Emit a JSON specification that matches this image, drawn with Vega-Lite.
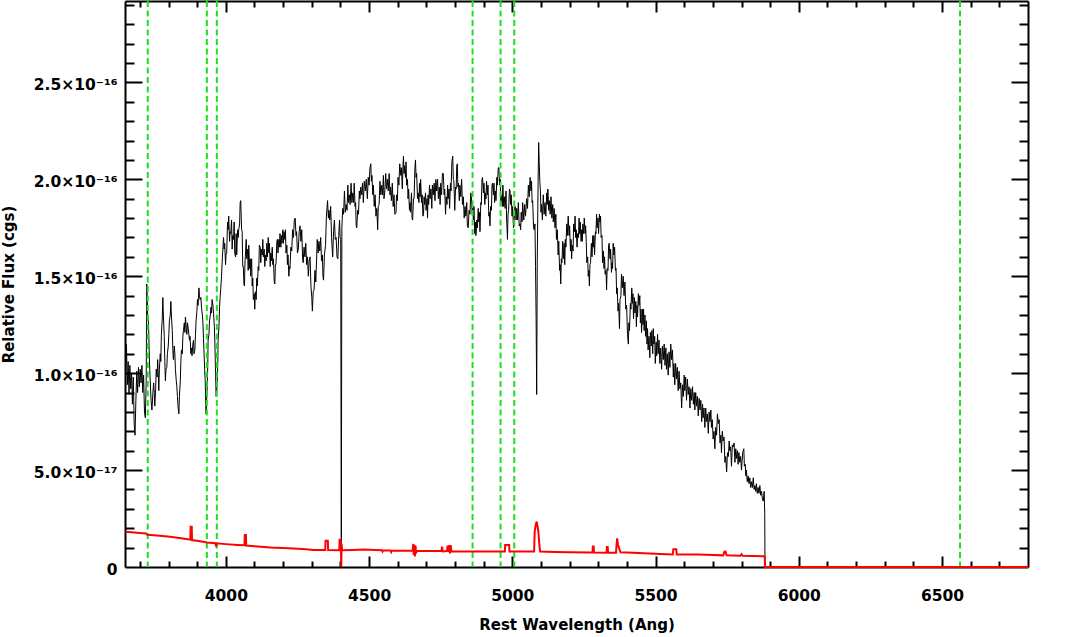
{
"$schema": "https://vega.github.io/schema/vega-lite/v6.json",
"width": 903, "height": 566,
"autosize": {"type": "none"},
"padding": {"left": 125, "top": 1, "right": 41, "bottom": 70},
"background": "white",
"config": {"view": {"stroke": null}, "axis": {"grid": false, "domainColor": "black", "tickColor": "black", "labelColor": "black", "titleColor": "black", "labelFont": "DejaVu Sans", "titleFont": "DejaVu Sans"}},
"datasets": {
"vlines": [{"w":3727.4},{"w":3933.7},{"w":3968.5},{"w":4861.3},{"w":4958.9},{"w":5006.8},{"w":6562.8}],
"spec": [
{"w":3650,"f":10.2e-17},{"w":3653,"f":11.5e-17},{"w":3656,"f":9.4e-17},{"w":3659,"f":10.6e-17},{"w":3662,"f":8.9e-17},{"w":3665,"f":10.4e-17},{"w":3668,"f":9.2e-17},{"w":3671,"f":10.0e-17},{"w":3674,"f":8.4e-17},{"w":3677,"f":9.8e-17},{"w":3680,"f":7.4e-17},{"w":3683,"f":6.8e-17},{"w":3686,"f":8.6e-17},{"w":3689,"f":10.1e-17},{"w":3692,"f":9.0e-17},{"w":3695,"f":10.3e-17},{"w":3698,"f":9.3e-17},{"w":3701,"f":10.2e-17},{"w":3704,"f":9.5e-17},{"w":3707,"f":10.4e-17},{"w":3710,"f":9.0e-17},{"w":3713,"f":9.9e-17},{"w":3716,"f":8.0e-17},{"w":3719,"f":7.7e-17},{"w":3722,"f":9.6e-17},{"w":3724,"f":14.6e-17},{"w":3727,"f":13.0e-17},{"w":3730,"f":12.6e-17},{"w":3733,"f":10.8e-17},{"w":3736,"f":9.6e-17},{"w":3739,"f":8.6e-17},{"w":3742,"f":8.1e-17},{"w":3745,"f":8.9e-17},{"w":3748,"f":9.5e-17},{"w":3750,"f":9.0e-17},{"w":3752,"f":8.3e-17},{"w":3755,"f":9.2e-17},{"w":3757,"f":10.2e-17},{"w":3760,"f":9.8e-17},{"w":3762,"f":10.7e-17},{"w":3764,"f":10.0e-17},{"w":3766,"f":9.1e-17},{"w":3768,"f":10.2e-17},{"w":3771,"f":11.0e-17},{"w":3773,"f":10.6e-17},{"w":3775,"f":12.0e-17},{"w":3778,"f":12.8e-17},{"w":3780,"f":13.9e-17},{"w":3782,"f":13.0e-17},{"w":3785,"f":11.9e-17},{"w":3787,"f":10.6e-17},{"w":3789,"f":9.6e-17},{"w":3791,"f":10.2e-17},{"w":3794,"f":10.3e-17},{"w":3796,"f":11.0e-17},{"w":3799,"f":11.4e-17},{"w":3801,"f":12.0e-17},{"w":3803,"f":12.7e-17},{"w":3806,"f":13.0e-17},{"w":3808,"f":13.7e-17},{"w":3810,"f":13.0e-17},{"w":3813,"f":12.2e-17},{"w":3815,"f":11.2e-17},{"w":3817,"f":10.7e-17},{"w":3820,"f":11.4e-17},{"w":3822,"f":11.0e-17},{"w":3824,"f":10.2e-17},{"w":3827,"f":9.6e-17},{"w":3829,"f":9.3e-17},{"w":3831,"f":8.8e-17},{"w":3833,"f":8.3e-17},{"w":3836,"f":7.9e-17},{"w":3838,"f":8.8e-17},{"w":3841,"f":9.6e-17},{"w":3843,"f":10.6e-17},{"w":3845,"f":11.2e-17},{"w":3848,"f":11.0e-17},{"w":3850,"f":11.9e-17},{"w":3852,"f":12.2e-17},{"w":3855,"f":12.6e-17},{"w":3857,"f":12.1e-17},{"w":3859,"f":12.9e-17},{"w":3862,"f":12.3e-17},{"w":3864,"f":12.0e-17},{"w":3866,"f":12.6e-17},{"w":3868,"f":12.4e-17},{"w":3871,"f":12.0e-17},{"w":3873,"f":11.7e-17},{"w":3875,"f":11.9e-17},{"w":3878,"f":11.0e-17},{"w":3880,"f":11.3e-17},{"w":3882,"f":10.9e-17},{"w":3885,"f":11.5e-17},{"w":3887,"f":11.7e-17},{"w":3889,"f":11.0e-17},{"w":3892,"f":11.2e-17},{"w":3894,"f":12.0e-17},{"w":3896,"f":12.7e-17},{"w":3899,"f":13.2e-17},{"w":3901,"f":13.8e-17},{"w":3903,"f":13.5e-17},{"w":3906,"f":14.4e-17},{"w":3908,"f":14.0e-17},{"w":3910,"f":13.8e-17},{"w":3913,"f":13.9e-17},{"w":3915,"f":13.4e-17},{"w":3918,"f":13.0e-17},{"w":3920,"f":12.6e-17},{"w":3922,"f":11.8e-17},{"w":3924,"f":11.0e-17},{"w":3926,"f":10.2e-17},{"w":3928,"f":9.6e-17},{"w":3930,"f":8.4e-17},{"w":3931,"f":7.9e-17},{"w":3933,"f":8.6e-17},{"w":3935,"f":9.3e-17},{"w":3937,"f":10.5e-17},{"w":3938,"f":11.7e-17},{"w":3941,"f":12.0e-17},{"w":3943,"f":12.7e-17},{"w":3946,"f":13.0e-17},{"w":3948,"f":13.4e-17},{"w":3950,"f":13.1e-17},{"w":3952,"f":13.8e-17},{"w":3955,"f":13.5e-17},{"w":3957,"f":13.1e-17},{"w":3960,"f":12.4e-17},{"w":3962,"f":11.4e-17},{"w":3964,"f":10.0e-17},{"w":3966,"f":8.8e-17},{"w":3968,"f":9.0e-17},{"w":3970,"f":9.6e-17},{"w":3972,"f":10.6e-17},{"w":3973,"f":11.7e-17},{"w":3976,"f":12.4e-17},{"w":3978,"f":13.4e-17},{"w":3980,"f":13.9e-17},{"w":3982,"f":14.3e-17},{"w":3985,"f":15.0e-17},{"w":3987,"f":15.7e-17},
{"w":3990,"f":16.5e-17},{"w":3992,"f":17.0e-17},{"w":3994,"f":16.4e-17},{"w":3996,"f":16.7e-17},{"w":3999,"f":15.6e-17},{"w":4001,"f":16.2e-17},{"w":4003,"f":16.2e-17},{"w":4006,"f":17.8e-17},{"w":4008,"f":17.4e-17},{"w":4010,"f":18.1e-17},{"w":4013,"f":16.8e-17},{"w":4015,"f":17.3e-17},{"w":4017,"f":17.2e-17},{"w":4020,"f":17.9e-17},{"w":4022,"f":16.4e-17},{"w":4024,"f":17.1e-17},{"w":4027,"f":16.9e-17},{"w":4029,"f":17.8e-17},{"w":4031,"f":16.2e-17},{"w":4034,"f":16.0e-17},{"w":4036,"f":17.2e-17},{"w":4038,"f":16.1e-17},{"w":4041,"f":17.4e-17},{"w":4043,"f":17.0e-17},{"w":4045,"f":17.4e-17},{"w":4048,"f":17.7e-17},{"w":4050,"f":18.8e-17},{"w":4052,"f":18.9e-17},{"w":4055,"f":17.4e-17},{"w":4057,"f":17.3e-17},{"w":4059,"f":15.5e-17},{"w":4061,"f":15.5e-17},{"w":4063,"f":14.6e-17},{"w":4065,"f":14.5e-17},{"w":4067,"f":15.8e-17},{"w":4068,"f":16.0e-17},{"w":4071,"f":16.9e-17},{"w":4073,"f":15.9e-17},{"w":4076,"f":16.4e-17},{"w":4078,"f":15.3e-17},{"w":4080,"f":16.6e-17},{"w":4083,"f":15.4e-17},{"w":4085,"f":15.9e-17},{"w":4087,"f":15.0e-17},{"w":4090,"f":15.9e-17},{"w":4092,"f":14.5e-17},{"w":4094,"f":14.9e-17},{"w":4096,"f":13.8e-17},{"w":4099,"f":14.1e-17},{"w":4101,"f":13.3e-17},{"w":4103,"f":14.2e-17},{"w":4106,"f":13.8e-17},{"w":4108,"f":14.9e-17},{"w":4110,"f":14.5e-17},{"w":4113,"f":15.5e-17},{"w":4115,"f":15.3e-17},{"w":4117,"f":16.6e-17},{"w":4120,"f":16.5e-17},{"w":4122,"f":15.7e-17},{"w":4124,"f":16.4e-17},{"w":4127,"f":16.1e-17},{"w":4129,"f":16.9e-17},{"w":4131,"f":16.0e-17},{"w":4134,"f":16.4e-17},{"w":4136,"f":15.5e-17},{"w":4138,"f":16.1e-17},{"w":4141,"f":15.8e-17},{"w":4143,"f":16.7e-17},{"w":4145,"f":16.0e-17},{"w":4148,"f":17.0e-17},{"w":4150,"f":16.2e-17},{"w":4152,"f":16.7e-17},{"w":4155,"f":15.5e-17},{"w":4157,"f":16.2e-17},{"w":4159,"f":15.8e-17},{"w":4162,"f":16.5e-17},{"w":4164,"f":15.6e-17},{"w":4166,"f":15.9e-17},{"w":4169,"f":14.7e-17},{"w":4171,"f":14.6e-17},{"w":4173,"f":15.6e-17},{"w":4175,"f":15.6e-17},{"w":4178,"f":16.8e-17},{"w":4180,"f":16.9e-17},{"w":4182,"f":16.2e-17},{"w":4185,"f":16.9e-17},{"w":4187,"f":16.5e-17},{"w":4189,"f":17.2e-17},{"w":4192,"f":16.5e-17},{"w":4194,"f":17.1e-17},{"w":4196,"f":16.7e-17},{"w":4199,"f":17.4e-17},{"w":4201,"f":16.7e-17},{"w":4203,"f":17.3e-17},{"w":4206,"f":16.9e-17},{"w":4208,"f":17.4e-17},{"w":4210,"f":16.2e-17},{"w":4213,"f":16.6e-17},{"w":4215,"f":15.6e-17},{"w":4217,"f":16.1e-17},{"w":4220,"f":15.0e-17},{"w":4222,"f":15.5e-17},{"w":4224,"f":15.4e-17},{"w":4227,"f":16.5e-17},{"w":4230,"f":16.3e-17},{"w":4233,"f":17.4e-17},{"w":4236,"f":17.0e-17},{"w":4239,"f":17.9e-17},{"w":4242,"f":18.0e-17},{"w":4245,"f":17.1e-17},{"w":4247,"f":17.3e-17},{"w":4250,"f":16.2e-17},{"w":4253,"f":16.4e-17},{"w":4256,"f":17.3e-17},{"w":4259,"f":17.6e-17},{"w":4262,"f":16.8e-17},{"w":4265,"f":17.4e-17},{"w":4268,"f":15.9e-17},{"w":4270,"f":15.7e-17},{"w":4273,"f":16.5e-17},{"w":4276,"f":16.0e-17},{"w":4279,"f":16.7e-17},{"w":4282,"f":15.6e-17},{"w":4285,"f":16.0e-17},{"w":4288,"f":15.0e-17},{"w":4291,"f":15.8e-17},{"w":4294,"f":16.0e-17},{"w":4297,"f":14.5e-17},{"w":4300,"f":13.9e-17},{"w":4302,"f":13.2e-17},{"w":4305,"f":14.2e-17},{"w":4308,"f":14.3e-17},{"w":4311,"f":15.3e-17},{"w":4314,"f":14.7e-17},{"w":4317,"f":16.0e-17},{"w":4319,"f":16.9e-17},{"w":4322,"f":16.2e-17},{"w":4325,"f":16.8e-17},{"w":4328,"f":16.3e-17},{"w":4331,"f":17.0e-17},{"w":4334,"f":15.8e-17},{"w":4337,"f":16.1e-17},{"w":4339,"f":15.0e-17},{"w":4341,"f":14.8e-17},{"w":4344,"f":16.1e-17},{"w":4348,"f":16.6e-17},{"w":4351,"f":18.1e-17},{"w":4355,"f":18.9e-17},{"w":4358,"f":18.0e-17},{"w":4360,"f":18.4e-17},{"w":4363,"f":17.9e-17},{"w":4366,"f":18.6e-17},{"w":4369,"f":17.0e-17},{"w":4373,"f":16.0e-17},{"w":4376,"f":17.3e-17},{"w":4379,"f":17.9e-17},{"w":4382,"f":16.9e-17},{"w":4385,"f":17.0e-17},{"w":4388,"f":16.0e-17},{"w":4391,"f":15.9e-17},{"w":4394,"f":17.1e-17},{"w":4397,"f":17.9e-17},{"w":4399,"f":17.0e-17},{"w":4401,"f":16.9e-17},{"w":4403,"f":0},
{"w":4405,"f":17.5e-17},{"w":4408,"f":18.5e-17},{"w":4411,"f":18.2e-17},{"w":4414,"f":19.4e-17},{"w":4417,"f":18.3e-17},{"w":4420,"f":18.7e-17},{"w":4423,"f":18.4e-17},{"w":4426,"f":19.7e-17},{"w":4428,"f":18.8e-17},{"w":4431,"f":19.2e-17},{"w":4434,"f":18.7e-17},{"w":4437,"f":19.8e-17},{"w":4440,"f":18.8e-17},{"w":4443,"f":19.3e-17},{"w":4446,"f":18.8e-17},{"w":4448,"f":19.8e-17},{"w":4451,"f":18.6e-17},{"w":4453,"f":18.8e-17},{"w":4455,"f":17.6e-17},{"w":4457,"f":17.5e-17},{"w":4460,"f":18.4e-17},{"w":4463,"f":18.2e-17},{"w":4466,"f":19.4e-17},{"w":4468,"f":19.0e-17},{"w":4471,"f":19.6e-17},{"w":4474,"f":19.2e-17},{"w":4477,"f":19.8e-17},{"w":4480,"f":18.8e-17},{"w":4483,"f":19.9e-17},{"w":4487,"f":19.4e-17},{"w":4490,"f":20.0e-17},{"w":4494,"f":19.0e-17},{"w":4497,"f":20.1e-17},{"w":4500,"f":19.7e-17},{"w":4503,"f":20.6e-17},{"w":4506,"f":20.8e-17},{"w":4508,"f":19.9e-17},{"w":4510,"f":20.2e-17},{"w":4513,"f":19.2e-17},{"w":4515,"f":19.7e-17},{"w":4518,"f":18.6e-17},{"w":4521,"f":19.2e-17},{"w":4524,"f":18.1e-17},{"w":4527,"f":18.5e-17},{"w":4530,"f":17.4e-17},{"w":4532,"f":18.6e-17},{"w":4535,"f":18.7e-17},{"w":4538,"f":19.9e-17},{"w":4541,"f":19.2e-17},{"w":4544,"f":19.7e-17},{"w":4547,"f":19.2e-17},{"w":4550,"f":20.2e-17},{"w":4552,"f":19.0e-17},{"w":4555,"f":19.4e-17},{"w":4558,"f":20.3e-17},{"w":4561,"f":19.5e-17},{"w":4564,"f":20.0e-17},{"w":4567,"f":19.4e-17},{"w":4570,"f":20.3e-17},{"w":4573,"f":19.2e-17},{"w":4575,"f":19.6e-17},{"w":4578,"f":18.9e-17},{"w":4581,"f":19.8e-17},{"w":4584,"f":18.6e-17},{"w":4587,"f":19.2e-17},{"w":4590,"f":18.2e-17},{"w":4594,"f":18.3e-17},{"w":4596,"f":19.2e-17},{"w":4599,"f":18.9e-17},{"w":4601,"f":20.1e-17},{"w":4604,"f":19.7e-17},{"w":4607,"f":20.8e-17},{"w":4611,"f":20.2e-17},{"w":4613,"f":20.6e-17},{"w":4616,"f":19.5e-17},{"w":4618,"f":20.6e-17},{"w":4620,"f":21.2e-17},{"w":4622,"f":20.3e-17},{"w":4624,"f":20.7e-17},{"w":4627,"f":20.1e-17},{"w":4629,"f":20.9e-17},{"w":4631,"f":19.7e-17},{"w":4634,"f":20.0e-17},{"w":4636,"f":19.0e-17},{"w":4638,"f":19.5e-17},{"w":4641,"f":18.4e-17},{"w":4643,"f":18.8e-17},{"w":4645,"f":18.3e-17},{"w":4648,"f":19.3e-17},{"w":4650,"f":18.0e-17},{"w":4652,"f":17.9e-17},{"w":4655,"f":19.0e-17},{"w":4657,"f":19.0e-17},{"w":4660,"f":20.6e-17},{"w":4662,"f":21.0e-17},{"w":4664,"f":20.1e-17},{"w":4666,"f":20.3e-17},{"w":4669,"f":19.0e-17},{"w":4671,"f":19.3e-17},{"w":4674,"f":18.8e-17},{"w":4676,"f":19.8e-17},{"w":4678,"f":19.1e-17},{"w":4680,"f":20.0e-17},{"w":4683,"f":18.8e-17},{"w":4685,"f":19.2e-17},{"w":4688,"f":18.1e-17},{"w":4690,"f":18.2e-17},{"w":4692,"f":19.1e-17},{"w":4694,"f":18.7e-17},{"w":4697,"f":19.3e-17},{"w":4699,"f":18.4e-17},{"w":4702,"f":19.0e-17},{"w":4704,"f":18.0e-17},{"w":4706,"f":19.2e-17},{"w":4708,"f":18.7e-17},{"w":4711,"f":19.7e-17},{"w":4713,"f":19.0e-17},{"w":4716,"f":19.5e-17},{"w":4719,"f":18.5e-17},{"w":4721,"f":19.7e-17},{"w":4724,"f":19.2e-17},{"w":4727,"f":19.8e-17},{"w":4730,"f":18.9e-17},{"w":4733,"f":20.0e-17},{"w":4736,"f":19.4e-17},{"w":4739,"f":20.0e-17},{"w":4742,"f":19.0e-17},{"w":4745,"f":19.6e-17},{"w":4748,"f":18.7e-17},{"w":4750,"f":19.8e-17},{"w":4753,"f":19.2e-17},{"w":4756,"f":20.3e-17},{"w":4759,"f":20.3e-17},{"w":4762,"f":19.2e-17},{"w":4764,"f":19.5e-17},{"w":4767,"f":18.2e-17},{"w":4769,"f":19.1e-17},{"w":4772,"f":18.7e-17},{"w":4774,"f":19.7e-17},{"w":4776,"f":19.0e-17},{"w":4779,"f":19.5e-17},{"w":4781,"f":18.5e-17},{"w":4784,"f":19.8e-17},{"w":4786,"f":19.4e-17},{"w":4789,"f":20.9e-17},{"w":4792,"f":21.2e-17},{"w":4794,"f":20.0e-17},{"w":4796,"f":19.9e-17},{"w":4799,"f":18.4e-17},{"w":4802,"f":19.6e-17},{"w":4804,"f":19.5e-17},{"w":4806,"f":20.7e-17},{"w":4808,"f":20.8e-17},{"w":4810,"f":19.6e-17},{"w":4812,"f":19.8e-17},{"w":4815,"f":18.9e-17},{"w":4817,"f":19.7e-17},{"w":4820,"f":19.1e-17},{"w":4823,"f":20.0e-17},{"w":4826,"f":18.7e-17},{"w":4829,"f":19.1e-17},{"w":4832,"f":18.0e-17},{"w":4835,"f":18.6e-17},{"w":4838,"f":18.1e-17},{"w":4841,"f":18.8e-17},{"w":4843,"f":17.6e-17},{"w":4846,"f":17.5e-17},{"w":4849,"f":18.4e-17},{"w":4852,"f":18.2e-17},{"w":4855,"f":19.3e-17},{"w":4857,"f":19.1e-17},{"w":4860,"f":18.2e-17},{"w":4862,"f":18.5e-17},{"w":4864,"f":17.9e-17},{"w":4866,"f":18.6e-17},{"w":4869,"f":17.2e-17},{"w":4871,"f":17.8e-17},{"w":4873,"f":17.1e-17},{"w":4876,"f":17.9e-17},{"w":4878,"f":17.5e-17},{"w":4881,"f":18.5e-17},{"w":4883,"f":17.8e-17},{"w":4885,"f":18.3e-17},{"w":4887,"f":17.3e-17},{"w":4890,"f":18.8e-17},{"w":4892,"f":18.7e-17},{"w":4894,"f":20.0e-17},{"w":4896,"f":20.1e-17},{"w":4899,"f":19.3e-17},{"w":4901,"f":19.8e-17},{"w":4904,"f":18.7e-17},{"w":4906,"f":19.3e-17},{"w":4908,"f":19.0e-17},{"w":4910,"f":19.9e-17},{"w":4913,"f":19.2e-17},{"w":4915,"f":19.7e-17},{"w":4918,"f":18.1e-17},{"w":4920,"f":18.3e-17},{"w":4922,"f":17.6e-17},{"w":4924,"f":18.6e-17},{"w":4927,"f":18.4e-17},{"w":4929,"f":19.7e-17},{"w":4931,"f":19.8e-17},{"w":4934,"f":19.2e-17},{"w":4936,"f":19.8e-17},{"w":4938,"f":18.8e-17},{"w":4941,"f":19.4e-17},{"w":4943,"f":18.9e-17},{"w":4946,"f":20.1e-17},{"w":4948,"f":19.7e-17},{"w":4951,"f":20.6e-17},{"w":4953,"f":20.6e-17},{"w":4956,"f":19.7e-17},{"w":4958,"f":20.0e-17},{"w":4960,"f":18.8e-17},{"w":4963,"f":19.2e-17},{"w":4965,"f":18.6e-17},{"w":4967,"f":19.7e-17},{"w":4970,"f":18.6e-17},{"w":4972,"f":19.1e-17},{"w":4975,"f":18.5e-17},{"w":4978,"f":19.4e-17},{"w":4980,"f":18.0e-17},{"w":4983,"f":16.9e-17},{"w":4985,"f":18.2e-17},{"w":4987,"f":18.4e-17},{"w":4990,"f":19.5e-17},{"w":4992,"f":19.4e-17},{"w":4994,"f":18.7e-17},{"w":4996,"f":19.2e-17},{"w":4999,"f":18.1e-17},{"w":5001,"f":18.6e-17},{"w":5004,"f":17.5e-17},{"w":5006,"f":17.6e-17},{"w":5008,"f":18.5e-17},{"w":5010,"f":18.6e-17},{"w":5013,"f":17.9e-17},{"w":5015,"f":18.5e-17},{"w":5018,"f":17.9e-17},{"w":5021,"f":18.8e-17},{"w":5024,"f":17.6e-17},{"w":5027,"f":17.7e-17},{"w":5029,"f":17.4e-17},{"w":5031,"f":18.3e-17},{"w":5034,"f":17.8e-17},{"w":5036,"f":18.8e-17},{"w":5040,"f":17.9e-17},{"w":5043,"f":18.7e-17},{"w":5046,"f":18.1e-17},{"w":5050,"f":19.0e-17},{"w":5053,"f":18.5e-17},{"w":5056,"f":19.7e-17},{"w":5059,"f":19.1e-17},{"w":5062,"f":20.1e-17},{"w":5065,"f":19.4e-17},{"w":5067,"f":19.9e-17},{"w":5069,"f":18.8e-17},{"w":5071,"f":18.9e-17},{"w":5074,"f":17.6e-17},{"w":5076,"f":17.4e-17},{"w":5079,"f":17.7e-17},{"w":5081,"f":15.5e-17},{"w":5083,"f":12.9e-17},{"w":5085,"f":8.9e-17},{"w":5087,"f":15.7e-17},{"w":5090,"f":19.9e-17},{"w":5092,"f":21.9e-17},{"w":5094,"f":20.8e-17},{"w":5096,"f":19.9e-17},
{"w":5098,"f":19.4e-17},{"w":5100,"f":18.3e-17},{"w":5102,"f":18.7e-17},{"w":5105,"f":17.9e-17},{"w":5108,"f":19.2e-17},{"w":5111,"f":18.2e-17},{"w":5114,"f":18.8e-17},{"w":5117,"f":18.1e-17},{"w":5120,"f":19.3e-17},{"w":5122,"f":18.7e-17},{"w":5124,"f":19.5e-17},{"w":5127,"f":18.4e-17},{"w":5129,"f":18.9e-17},{"w":5132,"f":18.2e-17},{"w":5135,"f":19.1e-17},{"w":5138,"f":18.0e-17},{"w":5141,"f":18.7e-17},{"w":5143,"f":17.8e-17},{"w":5146,"f":18.5e-17},{"w":5149,"f":17.5e-17},{"w":5152,"f":18.2e-17},{"w":5154,"f":16.9e-17},{"w":5157,"f":17.4e-17},{"w":5160,"f":16.1e-17},{"w":5162,"f":16.8e-17},{"w":5165,"f":15.3e-17},{"w":5167,"f":15.6e-17},{"w":5169,"f":14.6e-17},{"w":5171,"f":15.9e-17},{"w":5173,"f":15.7e-17},{"w":5176,"f":16.8e-17},{"w":5178,"f":15.9e-17},{"w":5181,"f":16.7e-17},{"w":5183,"f":15.6e-17},{"w":5185,"f":16.9e-17},{"w":5187,"f":16.5e-17},{"w":5190,"f":17.7e-17},{"w":5192,"f":17.1e-17},{"w":5195,"f":18.1e-17},{"w":5198,"f":17.1e-17},{"w":5200,"f":17.6e-17},{"w":5203,"f":16.3e-17},{"w":5205,"f":16.9e-17},{"w":5207,"f":15.9e-17},{"w":5209,"f":16.6e-17},{"w":5212,"f":16.3e-17},{"w":5214,"f":17.7e-17},{"w":5217,"f":17.3e-17},{"w":5219,"f":18.1e-17},{"w":5221,"f":17.0e-17},{"w":5223,"f":17.4e-17},{"w":5226,"f":16.5e-17},{"w":5228,"f":17.2e-17},{"w":5231,"f":17.0e-17},{"w":5233,"f":18.0e-17},{"w":5235,"f":17.2e-17},{"w":5237,"f":17.8e-17},{"w":5240,"f":16.8e-17},{"w":5242,"f":17.4e-17},{"w":5244,"f":16.8e-17},{"w":5246,"f":17.7e-17},{"w":5249,"f":17.2e-17},{"w":5251,"f":18.0e-17},{"w":5254,"f":17.2e-17},{"w":5256,"f":17.6e-17},
{"w":5258,"f":16.8e-17},{"w":5260,"f":15.7e-17},{"w":5263,"f":16.0e-17},{"w":5265,"f":15.0e-17},{"w":5267,"f":15.3e-17},{"w":5269,"f":14.5e-17},{"w":5271,"f":15.6e-17},{"w":5273,"f":15.7e-17},{"w":5276,"f":16.7e-17},{"w":5278,"f":16.0e-17},{"w":5281,"f":17.1e-17},{"w":5283,"f":16.5e-17},{"w":5285,"f":17.1e-17},{"w":5287,"f":16.1e-17},{"w":5290,"f":17.3e-17},{"w":5292,"f":17.2e-17},{"w":5294,"f":18.2e-17},{"w":5296,"f":17.5e-17},{"w":5299,"f":18.0e-17},{"w":5301,"f":17.2e-17},{"w":5304,"f":18.2e-17},{"w":5306,"f":17.8e-17},{"w":5308,"f":18.1e-17},{"w":5310,"f":17.0e-17},{"w":5313,"f":17.1e-17},{"w":5315,"f":15.7e-17},{"w":5318,"f":16.3e-17},{"w":5320,"f":15.4e-17},{"w":5322,"f":16.0e-17},{"w":5324,"f":15.1e-17},{"w":5327,"f":15.3e-17},{"w":5329,"f":14.3e-17},{"w":5331,"f":15.4e-17},{"w":5334,"f":15.3e-17},{"w":5336,"f":16.6e-17},{"w":5338,"f":16.7e-17},{"w":5341,"f":15.9e-17},{"w":5343,"f":16.4e-17},{"w":5346,"f":15.2e-17},{"w":5348,"f":15.7e-17},{"w":5350,"f":15.4e-17},{"w":5352,"f":16.7e-17},{"w":5355,"f":16.1e-17},{"w":5357,"f":16.5e-17},{"w":5360,"f":15.3e-17},{"w":5362,"f":15.4e-17},{"w":5364,"f":14.1e-17},{"w":5366,"f":14.4e-17},{"w":5369,"f":13.2e-17},{"w":5371,"f":13.6e-17},{"w":5374,"f":12.3e-17},{"w":5376,"f":13.8e-17},{"w":5379,"f":14.0e-17},{"w":5381,"f":15.1e-17},{"w":5384,"f":14.4e-17},{"w":5387,"f":15.0e-17},{"w":5390,"f":14.0e-17},{"w":5393,"f":14.7e-17},{"w":5396,"f":13.3e-17},{"w":5399,"f":13.5e-17},{"w":5402,"f":12.0e-17},
{"w":5405,"f":11.5e-17},{"w":5407,"f":12.6e-17},{"w":5409,"f":12.2e-17},{"w":5412,"f":13.6e-17},{"w":5414,"f":13.3e-17},{"w":5417,"f":14.4e-17},{"w":5419,"f":13.6e-17},{"w":5421,"f":14.1e-17},{"w":5423,"f":12.8e-17},{"w":5426,"f":13.9e-17},{"w":5428,"f":13.1e-17},{"w":5431,"f":13.7e-17},{"w":5433,"f":12.4e-17},{"w":5435,"f":13.5e-17},{"w":5437,"f":12.9e-17},{"w":5440,"f":14.1e-17},{"w":5442,"f":13.5e-17},{"w":5445,"f":14.0e-17},{"w":5447,"f":12.6e-17},{"w":5449,"f":13.3e-17},{"w":5451,"f":12.1e-17},{"w":5454,"f":13.3e-17},{"w":5456,"f":12.5e-17},{"w":5458,"f":13.3e-17},{"w":5460,"f":12.2e-17},{"w":5463,"f":13.0e-17},{"w":5465,"f":11.9e-17},{"w":5468,"f":12.7e-17},{"w":5470,"f":11.5e-17},{"w":5472,"f":12.3e-17},{"w":5474,"f":11.2e-17},{"w":5477,"f":11.9e-17},{"w":5480,"f":10.8e-17},{"w":5482,"f":12.1e-17},{"w":5485,"f":11.4e-17},{"w":5487,"f":12.2e-17},{"w":5490,"f":11.0e-17},{"w":5492,"f":12.3e-17},{"w":5494,"f":11.5e-17},{"w":5497,"f":11.9e-17},{"w":5499,"f":10.5e-17},{"w":5502,"f":11.6e-17},{"w":5504,"f":10.9e-17},{"w":5507,"f":12.0e-17},{"w":5509,"f":11.0e-17},{"w":5512,"f":11.7e-17},{"w":5515,"f":10.5e-17},{"w":5518,"f":11.3e-17},{"w":5521,"f":10.2e-17},{"w":5524,"f":11.4e-17},{"w":5527,"f":10.7e-17},{"w":5530,"f":11.5e-17},{"w":5533,"f":10.4e-17},{"w":5536,"f":11.3e-17},{"w":5538,"f":10.2e-17},{"w":5541,"f":11.0e-17},{"w":5544,"f":9.9e-17},{"w":5547,"f":11.1e-17},{"w":5550,"f":10.3e-17},{"w":5553,"f":11.5e-17},{"w":5556,"f":10.7e-17},{"w":5559,"f":11.2e-17},{"w":5562,"f":9.8e-17},{"w":5564,"f":10.5e-17},{"w":5567,"f":9.4e-17},{"w":5570,"f":10.5e-17},{"w":5573,"f":9.7e-17},{"w":5576,"f":10.3e-17},{"w":5579,"f":9.1e-17},{"w":5582,"f":10.1e-17},{"w":5585,"f":9.2e-17},{"w":5588,"f":9.5e-17},{"w":5591,"f":8.2e-17},{"w":5594,"f":9.4e-17},{"w":5597,"f":8.8e-17},{"w":5600,"f":9.9e-17},{"w":5602,"f":9.1e-17},{"w":5605,"f":9.8e-17},{"w":5608,"f":8.6e-17},{"w":5611,"f":9.7e-17},{"w":5614,"f":8.9e-17},{"w":5617,"f":9.3e-17},{"w":5620,"f":8.2e-17},{"w":5623,"f":9.2e-17},{"w":5626,"f":8.6e-17},{"w":5629,"f":9.3e-17},{"w":5632,"f":8.4e-17},{"w":5635,"f":9.0e-17},{"w":5637,"f":8.1e-17},{"w":5640,"f":9.0e-17},{"w":5643,"f":8.3e-17},{"w":5646,"f":8.8e-17},{"w":5649,"f":7.8e-17},{"w":5652,"f":8.7e-17},{"w":5655,"f":8.1e-17},{"w":5658,"f":8.6e-17},{"w":5661,"f":7.5e-17},{"w":5664,"f":8.4e-17},{"w":5666,"f":7.7e-17},{"w":5669,"f":8.2e-17},{"w":5672,"f":7.2e-17},{"w":5675,"f":8.2e-17},{"w":5678,"f":7.5e-17},{"w":5681,"f":7.9e-17},{"w":5684,"f":6.9e-17},{"w":5687,"f":8.0e-17},{"w":5690,"f":7.5e-17},{"w":5693,"f":8.1e-17},{"w":5695,"f":7.2e-17},{"w":5698,"f":7.6e-17},{"w":5701,"f":6.6e-17},{"w":5704,"f":7.0e-17},{"w":5707,"f":6.1e-17},{"w":5710,"f":7.2e-17},{"w":5713,"f":6.8e-17},{"w":5716,"f":7.9e-17},{"w":5719,"f":7.4e-17},{"w":5722,"f":7.6e-17},{"w":5725,"f":6.4e-17},{"w":5728,"f":6.8e-17},{"w":5730,"f":5.9e-17},{"w":5733,"f":7.0e-17},{"w":5736,"f":6.5e-17},{"w":5739,"f":6.7e-17},{"w":5742,"f":5.4e-17},{"w":5745,"f":5.7e-17},{"w":5748,"f":4.9e-17},{"w":5751,"f":5.9e-17},{"w":5754,"f":5.7e-17},{"w":5757,"f":6.5e-17},{"w":5759,"f":6.0e-17},{"w":5762,"f":6.2e-17},{"w":5765,"f":5.2e-17},{"w":5768,"f":6.3e-17},{"w":5771,"f":6.2e-17},{"w":5774,"f":6.4e-17},{"w":5777,"f":5.4e-17},{"w":5780,"f":6.1e-17},{"w":5783,"f":5.6e-17},{"w":5786,"f":6.0e-17},{"w":5788,"f":5.3e-17},{"w":5791,"f":5.9e-17},{"w":5794,"f":5.4e-17},{"w":5797,"f":5.7e-17},{"w":5800,"f":5.0e-17},{"w":5804,"f":5.9e-17},{"w":5808,"f":6.1e-17},{"w":5810,"f":5.2e-17},{"w":5813,"f":5.3e-17},{"w":5815,"f":4.7e-17},{"w":5817,"f":5.0e-17},{"w":5820,"f":4.4e-17},{"w":5823,"f":4.7e-17},{"w":5826,"f":4.3e-17},{"w":5829,"f":4.6e-17},{"w":5832,"f":4.1e-17},{"w":5835,"f":4.4e-17},{"w":5838,"f":4.1e-17},{"w":5841,"f":4.6e-17},{"w":5844,"f":4.0e-17},{"w":5847,"f":4.2e-17},{"w":5850,"f":3.9e-17},{"w":5852,"f":4.3e-17},{"w":5855,"f":3.8e-17},{"w":5858,"f":4.1e-17},{"w":5861,"f":3.8e-17},{"w":5864,"f":4.2e-17},{"w":5867,"f":3.7e-17},{"w":5870,"f":3.9e-17},{"w":5873,"f":3.5e-17},{"w":5876,"f":3.4e-17},{"w":5879,"f":3.9e-17},{"w":5881,"f":2.8e-17},{"w":5882,"f":0},{"w":6800,"f":0}
],
"err": [
{"w":3650,"f":1.82e-17},{"w":3700,"f":1.76e-17},{"w":3722,"f":1.73e-17},{"w":3726,"f":1.66e-17},{"w":3760,"f":1.62e-17},{"w":3806,"f":1.56e-17},{"w":3850,"f":1.47e-17},{"w":3876,"f":1.41e-17},{"w":3877,"f":2.08e-17},{"w":3881,"f":2.08e-17},{"w":3882,"f":1.39e-17},{"w":3910,"f":1.33e-17},{"w":3934,"f":1.26e-17},{"w":3964,"f":1.23e-17},{"w":3966,"f":1.05e-17},{"w":3968,"f":1.22e-17},{"w":4000,"f":1.18e-17},{"w":4040,"f":1.14e-17},{"w":4065,"f":1.12e-17},{"w":4066,"f":1.65e-17},{"w":4070,"f":1.65e-17},{"w":4071,"f":1.11e-17},{"w":4100,"f":1.07e-17},{"w":4155,"f":1.01e-17},{"w":4200,"f":0.98e-17},{"w":4236,"f":0.96e-17},{"w":4280,"f":0.92e-17},{"w":4306,"f":0.88e-17},{"w":4347,"f":0.88e-17},{"w":4348,"f":1.36e-17},{"w":4356,"f":1.36e-17},{"w":4357,"f":0.88e-17},{"w":4396,"f":0.87e-17},{"w":4397,"f":1.40e-17},{"w":4401,"f":1.38e-17},{"w":4402,"f":1.00e-17},{"w":4403,"f":0},{"w":4404,"f":1.20e-17},{"w":4406,"f":0.87e-17},{"w":4445,"f":0.88e-17},{"w":4480,"f":0.90e-17},{"w":4520,"f":0.88e-17},{"w":4545,"f":0.86e-17},{"w":4547,"f":0.80e-17},{"w":4549,"f":0.86e-17},{"w":4575,"f":0.85e-17},{"w":4577,"f":0.78e-17},{"w":4579,"f":0.85e-17},{"w":4620,"f":0.84e-17},{"w":4652,"f":0.84e-17},{"w":4654,"f":1.19e-17},{"w":4656,"f":0.62e-17},{"w":4658,"f":1.15e-17},{"w":4660,"f":0.55e-17},{"w":4662,"f":1.10e-17},{"w":4664,"f":0.70e-17},{"w":4666,"f":0.84e-17},{"w":4700,"f":0.83e-17},{"w":4752,"f":0.82e-17},{"w":4755,"f":1.05e-17},{"w":4757,"f":0.80e-17},{"w":4772,"f":0.82e-17},{"w":4774,"f":1.10e-17},{"w":4776,"f":0.78e-17},{"w":4780,"f":1.12e-17},{"w":4782,"f":0.70e-17},{"w":4785,"f":1.13e-17},{"w":4787,"f":0.81e-17},{"w":4850,"f":0.80e-17},{"w":4974,"f":0.80e-17},{"w":4975,"f":1.13e-17},{"w":4989,"f":1.13e-17},{"w":4990,"f":0.80e-17},{"w":5050,"f":0.80e-17},{"w":5076,"f":0.80e-17},{"w":5078,"f":1.82e-17},{"w":5082,"f":2.20e-17},{"w":5085,"f":2.34e-17},{"w":5088,"f":2.10e-17},{"w":5091,"f":1.80e-17},{"w":5094,"f":1.20e-17},{"w":5097,"f":0.80e-17},{"w":5150,"f":0.78e-17},{"w":5200,"f":0.76e-17},{"w":5280,"f":0.75e-17},{"w":5281,"f":1.06e-17},{"w":5284,"f":1.06e-17},{"w":5285,"f":0.75e-17},{"w":5329,"f":0.74e-17},{"w":5330,"f":1.03e-17},{"w":5333,"f":1.03e-17},{"w":5334,"f":0.74e-17},{"w":5362,"f":0.73e-17},{"w":5364,"f":1.20e-17},{"w":5366,"f":1.48e-17},{"w":5369,"f":1.15e-17},{"w":5373,"f":0.95e-17},{"w":5378,"f":0.76e-17},{"w":5420,"f":0.74e-17},{"w":5480,"f":0.70e-17},{"w":5538,"f":0.66e-17},{"w":5560,"f":0.65e-17},{"w":5562,"f":0.92e-17},{"w":5572,"f":0.92e-17},{"w":5574,"f":0.65e-17},{"w":5650,"f":0.64e-17},{"w":5700,"f":0.62e-17},{"w":5736,"f":0.60e-17},{"w":5740,"f":0.78e-17},{"w":5744,"f":0.80e-17},{"w":5748,"f":0.60e-17},{"w":5796,"f":0.58e-17},{"w":5800,"f":0.66e-17},{"w":5804,"f":0.58e-17},{"w":5876,"f":0.56e-17},{"w":5881,"f":0.55e-17},{"w":5882,"f":0},{"w":6800,"f":0}
]
},
"layer": [
{
"data": {"name": "spec"},
"mark": {"type": "line", "color": "black", "strokeWidth": 1},
"encoding": {
"x": {"field": "w", "type": "quantitative", "scale": {"domain": [3648, 6800], "nice": false, "zero": false},
"axis": {"orient": "bottom", "values": [4000, 4500, 5000, 5500, 6000, 6500], "format": "d", "ticks": false, "domain": true, "domainWidth": 2, "labelFontSize": 15.5, "labelFontWeight": "bold", "labelPadding": 21, "labelFlush": false,
"title": "Rest Wavelength (Ang)", "titleFontSize": 15, "titleFontWeight": "bold", "titleY": 57, "titleBaseline": "middle"}},
"y": {"field": "f", "type": "quantitative", "scale": {"domain": [0, 2.92e-16], "nice": false, "zero": false},
"axis": {"orient": "left", "values": [0, 5e-17, 1e-16, 1.5e-16, 2e-16, 2.5e-16], "ticks": false, "domain": true, "domainWidth": 2, "labelFontSize": 15.5, "labelFontWeight": "bold", "labelPadding": 8, "labelFlush": false, "labelBaseline": "middle", "labelOffset": 2,
"labelExpr": "datum.value == 0 ? '0' : (datum.value < 7e-17 ? '5.0×10⁻¹⁷' : format(datum.value / 1e-16, '.1f') + '×10⁻¹⁶')",
"title": "Relative Flux (cgs)", "titleFontSize": 15, "titleFontWeight": "bold", "titleX": -117, "titleY": 283, "titleBaseline": "middle", "titleAlign": "center", "titleAngle": -90}}
}
},
{
"data": {"name": "vlines"},
"mark": {"type": "rule", "color": "#22dd22", "strokeWidth": 2, "strokeDash": [6, 3.5]},
"encoding": {"x": {"field": "w", "type": "quantitative", "scale": {"domain": [3648, 6800], "nice": false, "zero": false}, "axis": null}}
},
{
"data": {"name": "err"},
"mark": {"type": "line", "color": "#ff0000", "strokeWidth": 2},
"encoding": {
"x": {"field": "w", "type": "quantitative", "scale": {"domain": [3648, 6800], "nice": false, "zero": false},
"axis": {"orient": "top", "values": [4000, 4500, 5000, 5500, 6000, 6500], "labels": false, "tickSize": -11, "tickWidth": 2, "domain": true, "domainWidth": 2, "title": null}},
"y": {"field": "f", "type": "quantitative", "scale": {"domain": [0, 2.92e-16], "nice": false, "zero": false},
"axis": {"orient": "right", "values": [5e-17, 1e-16, 1.5e-16, 2e-16, 2.5e-16], "labels": false, "tickSize": -17, "tickWidth": 2, "domain": true, "domainWidth": 2, "title": null}}
}
},
{
"data": {"name": "err"},
"mark": {"type": "line", "strokeOpacity": 0},
"encoding": {
"x": {"field": "w", "type": "quantitative", "scale": {"domain": [3648, 6800], "nice": false, "zero": false},
"axis": {"orient": "bottom", "values": [4000, 4500, 5000, 5500, 6000, 6500], "labels": false, "tickSize": -11, "tickWidth": 2, "domain": false, "title": null}},
"y": {"field": "f", "type": "quantitative", "scale": {"domain": [0, 2.92e-16], "nice": false, "zero": false},
"axis": {"orient": "left", "values": [5e-17, 1e-16, 1.5e-16, 2e-16, 2.5e-16], "labels": false, "tickSize": -17, "tickWidth": 2, "domain": false, "title": null}}
}
},
{
"data": {"name": "err"},
"mark": {"type": "line", "strokeOpacity": 0},
"encoding": {
"x": {"field": "w", "type": "quantitative", "scale": {"domain": [3648, 6800], "nice": false, "zero": false},
"axis": {"orient": "bottom", "values": [3700, 3800, 3900, 4100, 4200, 4300, 4400, 4600, 4700, 4800, 4900, 5100, 5200, 5300, 5400, 5600, 5700, 5800, 5900, 6100, 6200, 6300, 6400, 6600, 6700], "labels": false, "tickSize": -6, "tickWidth": 2, "domain": false, "title": null}},
"y": {"field": "f", "type": "quantitative", "scale": {"domain": [0, 2.92e-16], "nice": false, "zero": false},
"axis": {"orient": "left", "values": [1e-17, 2e-17, 3e-17, 4e-17, 6e-17, 7e-17, 8e-17, 9e-17, 1.1e-16, 1.2e-16, 1.3e-16, 1.4e-16, 1.6e-16, 1.7e-16, 1.8e-16, 1.9e-16, 2.1e-16, 2.2e-16, 2.3e-16, 2.4e-16, 2.6e-16, 2.7e-16, 2.8e-16, 2.9e-16], "labels": false, "tickSize": -9, "tickWidth": 2, "domain": false, "title": null}}
}
},
{
"data": {"name": "err"},
"mark": {"type": "line", "strokeOpacity": 0},
"encoding": {
"x": {"field": "w", "type": "quantitative", "scale": {"domain": [3648, 6800], "nice": false, "zero": false},
"axis": {"orient": "top", "values": [3700, 3800, 3900, 4100, 4200, 4300, 4400, 4600, 4700, 4800, 4900, 5100, 5200, 5300, 5400, 5600, 5700, 5800, 5900, 6100, 6200, 6300, 6400, 6600, 6700], "labels": false, "tickSize": -6, "tickWidth": 2, "domain": false, "title": null}},
"y": {"field": "f", "type": "quantitative", "scale": {"domain": [0, 2.92e-16], "nice": false, "zero": false},
"axis": {"orient": "right", "values": [1e-17, 2e-17, 3e-17, 4e-17, 6e-17, 7e-17, 8e-17, 9e-17, 1.1e-16, 1.2e-16, 1.3e-16, 1.4e-16, 1.6e-16, 1.7e-16, 1.8e-16, 1.9e-16, 2.1e-16, 2.2e-16, 2.3e-16, 2.4e-16, 2.6e-16, 2.7e-16, 2.8e-16, 2.9e-16], "labels": false, "tickSize": -9, "tickWidth": 2, "domain": false, "title": null}}
}
}
],
"resolve": {"axis": {"x": "independent", "y": "independent"}}
}
